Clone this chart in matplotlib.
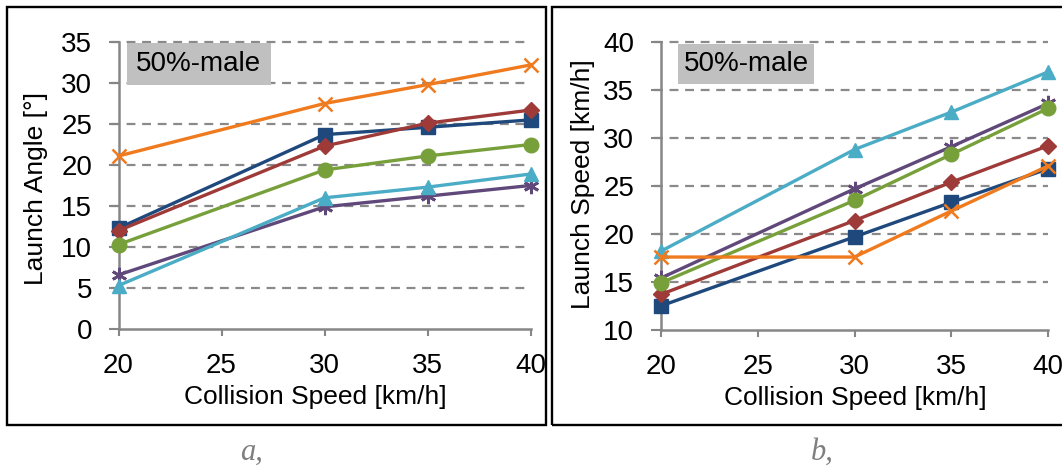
import matplotlib
matplotlib.use("Agg")
import matplotlib.pyplot as plt
from matplotlib.patches import Rectangle

plt.rcParams['font.family'] = ['Liberation Sans', 'DejaVu Sans']

speeds = [20, 30, 35, 40]

# Panel a: launch angle [deg]
angle_blue = [12.3, 23.7, 24.6, 25.5]
angle_red = [12.0, 22.3, 25.1, 26.7]
angle_green = [10.3, 19.4, 21.1, 22.5]
angle_purple = [6.6, 14.9, 16.2, 17.5]
angle_cyan = [5.3, 16.0, 17.3, 18.9]
angle_orange = [21.1, 27.5, 29.8, 32.2]

# Panel b: launch speed [km/h]
speed_blue = [12.5, 19.7, 23.3, 26.8]
speed_red = [13.7, 21.4, 25.4, 29.2]
speed_green = [14.9, 23.5, 28.3, 33.1]
speed_purple = [15.4, 24.7, 29.1, 33.6]
speed_cyan = [18.2, 28.8, 32.7, 36.9]
speed_orange = [17.6, 17.6, 22.4, 27.1]

x_ticks = [20, 25, 30, 35, 40]
angle_ticks = [0, 5, 10, 15, 20, 25, 30, 35]
speed_ticks = [10, 15, 20, 25, 30, 35, 40]

styles = {
    'blue': dict(color='#1F497D', marker='s', ms=10),
    'red': dict(color='#9E3A38', marker='D', ms=8),
    'purple': dict(color='#60497A', marker=(6, 2, 0), ms=11, mew=2),
    'green': dict(color='#77A03B', marker='o', ms=10.5),
    'cyan': dict(color='#4BACC6', marker='^', ms=10.5),
    'orange': dict(color='#F07A1E', marker='x', ms=10, mew=1.8),
}

fig = plt.figure(figsize=(10.62, 4.66), dpi=100)
W, H = 1062, 466

def fx(px):
    return px / W

def fy(py):
    return 1 - py / H

ax1 = fig.add_axes([fx(118.5), fy(329), fx(530.5) - fx(118.5), fy(42) - fy(329)])
ax2 = fig.add_axes([fx(660.7), fy(330), fx(1048.3) - fx(660.7), fy(42) - fy(330)])

def style_ax(ax, yticks, ylabel):
    ax.set_xlim(20, 40)
    ax.set_ylim(yticks[0], yticks[-1])
    ax.set_xticks(x_ticks)
    ax.set_yticks(yticks)
    for s in ['top', 'right']:
        ax.spines[s].set_visible(False)
    for s in ['left', 'bottom']:
        ax.spines[s].set_color('#868686')
        ax.spines[s].set_linewidth(1.8)
    ax.tick_params(axis='both', colors='#868686', labelcolor='black', labelsize=20,
                   width=1.5, direction='out')
    ax.tick_params(axis='y', length=7, pad=12)
    ax.tick_params(axis='x', length=5, pad=12)
    for y in yticks[1:]:
        ax.axhline(y, xmin=-0.018, xmax=1.0, color='#8A8A8A', lw=1.6, ls=(0, (4, 3)),
                   zorder=0, clip_on=False)
    ax.set_xlabel('Collision Speed [km/h]', fontsize=19)
    ax.set_ylabel(ylabel, fontsize=19)
    ax.set_facecolor('none')

style_ax(ax1, angle_ticks, 'Launch Angle [°]')
style_ax(ax2, speed_ticks, 'Launch Speed [km/h]')

ax1.xaxis.set_label_coords(0.477, -0.195)
ax2.xaxis.set_label_coords(0.503, -0.195)
ax1.yaxis.set_label_coords(-0.172, 0.49)
ax2.yaxis.set_label_coords(-0.17, 0.505)

series1 = [('blue', angle_blue), ('red', angle_red), ('purple', angle_purple),
           ('green', angle_green), ('cyan', angle_cyan), ('orange', angle_orange)]
series2 = [('blue', speed_blue), ('red', speed_red), ('purple', speed_purple),
           ('green', speed_green), ('cyan', speed_cyan), ('orange', speed_orange)]

for ax, series in [(ax1, series1), (ax2, series2)]:
    for i, (name, vals) in enumerate(series):
        st = styles[name]
        ax.plot(speeds, vals, color=st['color'], lw=2.4, marker=st['marker'],
                ms=st['ms'], mew=st.get('mew', 1), mec=st['color'], mfc=st['color'],
                clip_on=False, zorder=3 + i)

# "50%-male" boxes, placed in data coordinates
for ax, (x0, x1, y0, y1) in [(ax1, (20.4, 27.4, 29.8, 34.9)), (ax2, (20.9, 27.9, 35.6, 39.8))]:
    ax.add_patch(Rectangle((x0, y0), x1 - x0, y1 - y0, facecolor='#C0C0C0',
                           edgecolor='none', zorder=1))
    ax.text((x0 + x1) / 2, (y0 + y1) / 2, '50%-male', ha='center', va='center',
            fontsize=20, color='black', zorder=2)

# outer frames
for (x0, y0, x1, y1) in [(7, 7, 546, 425), (552, 7, 1070, 425)]:
    fig.patches.append(Rectangle((fx(x0), fy(y1)), fx(x1) - fx(x0), fy(y0) - fy(y1),
                                 transform=fig.transFigure, facecolor='none',
                                 edgecolor='black', lw=1.7, zorder=10))

fig.text(fx(252), fy(452), 'a,', ha='center', va='center', fontsize=22,
         family='Liberation Serif', style='italic', color='#7F7F7F')
fig.text(fx(822), fy(452), 'b,', ha='center', va='center', fontsize=22,
         family='Liberation Serif', style='italic', color='#7F7F7F')

fig.savefig('out.png', dpi=100)
